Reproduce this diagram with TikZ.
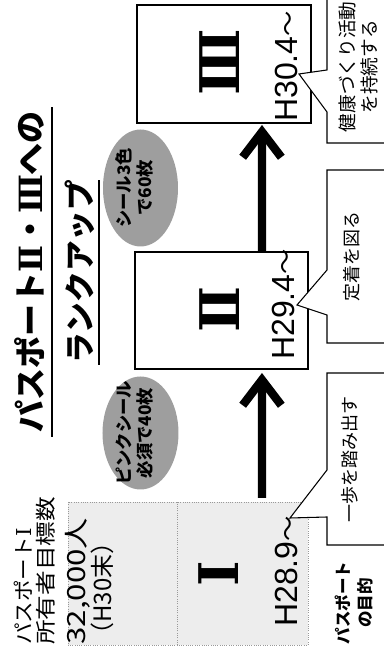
\documentclass[tikz,border=0pt]{standalone}
\usepackage{fontspec}
\setmainfont{Liberation Sans}
\newfontfamily\jp{Noto Sans CJK JP}
\newfontfamily\rom{DejaVu Serif}
\usetikzlibrary{arrows.meta,shapes.geometric,calc}
\begin{document}
\begin{tikzpicture}[x=0.75pt,y=0.75pt,
  box/.style={draw=black, line width=0.8pt, fill=white, inner sep=0pt, outer sep=0pt},
  faintbox/.style={draw=black!40, densely dotted, line width=0.7pt, fill=black!7, inner sep=0pt, outer sep=0pt},
  rankarrow/.style={line width=6.3pt, -{Straight Barb[length=19pt, width=29pt]}},
  seal/.style={ellipse, fill=black!38, inner sep=0pt},
  sealtext/.style={font={\jp\bfseries\fontsize{13pt}{15.75pt}\selectfont}, align=center, inner sep=0pt},
  callout/.style={draw=black, line width=0.8pt, fill=white},
  calltext/.style={font={\jp\fontsize{13.5pt}{16.5pt}\selectfont}, align=center, inner sep=0pt},
  numeral/.style={font={\rom\bfseries\fontsize{41pt}{41pt}\selectfont}, anchor=base, inner sep=0pt},
  datetext/.style={font={\fontsize{24pt}{24pt}\selectfont}, anchor=base west, inner sep=0pt},
  titletext/.style={font={\jp\bfseries\fontsize{24pt}{28pt}\selectfont}, anchor=base, inner sep=0pt},
  lefttext/.style={anchor=base west, inner sep=0pt}
]
\begin{scope}[rotate=90, transform shape]
\useasboundingbox (0,0) rectangle (653,384);
\clip (0,0) rectangle (653,384);

% boxes
\node[faintbox, minimum width=107.25pt, minimum height=180pt] (b1) at (79.5,196) {};
\draw[black!40, densely dotted, line width=0.7pt] ($(b1.south west)!0.542!(b1.north west)$) -- ($(b1.south east)!0.542!(b1.north east)$);
\node[box, minimum width=87.75pt, minimum height=129.75pt] (b2) at (342.5,162.5) {};
\node[box, minimum width=88.5pt, minimum height=130.5pt] (b3) at (589,160) {};

% arrows
\draw[rankarrow, shorten <=3pt, shorten >=3pt] ($(b1.south east)!0.1917!(b1.north east)$) -- ($(b2.south west)!0.266!(b2.north west)$);
\draw[rankarrow, shorten >=1.5pt] ($(b2.south east)!0.266!(b2.north east)$) -- ($(b3.south west)!0.2816!(b3.north west)$);

% seals
\node[seal, minimum width=84.75pt, minimum height=57pt] (e1) at (220,243.5) {};
\node[sealtext] (e1t) at (220,249.5) {ピンクシール\\必須で40枚};
\node[seal, minimum width=87.75pt, minimum height=56.25pt] (e2) at (465,243.5) {};
\node[sealtext] (e2t) at (465,249.5) {シール3色\\で60枚};

% callouts
\filldraw[callout] (660,57) -- (583,57) -- (579,85) -- (541,57) -- (510,57) -- (510,-5) -- (660,-5) -- cycle;
\filldraw[callout] (483,-5) -- (483,57) -- (383,57) -- (348,87) -- (338,57) -- (310,57) -- (310,-5) -- cycle;
\filldraw[callout] (280,-5) -- (280,57) -- (183,57) -- (135,94) -- (136,57) -- (108,57) -- (108,-5) -- cycle;
\node[calltext, font={\jp\fontsize{14pt}{16.5pt}\selectfont}] (ct3) at (586,26) {健康づくり活動\\を持続する};
\node[calltext] (ct2) at (396,32) {定着を図る};
\node[calltext] (ct1) at (193,34) {一歩を踏み出す};
\node[calltext, font={\jp\bfseries\fontsize{12.4pt}{16.5pt}\selectfont}] (lab) at (50,30) {パスポート\\の目的};

% numerals and dates
\node[numeral] (n1) at (79,145) {Ⅰ};
\node[numeral] (n2) at (344,144) {Ⅱ};
\node[numeral] (n3) at (591,144) {Ⅲ};
\node[datetext] (h1) at (26,86) {H28.9{\jp\fontsize{19pt}{19pt}\selectfont 〜}};
\node[datetext] (h2) at (293,89) {H29.4{\jp\fontsize{19pt}{19pt}\selectfont 〜}};
\node[datetext] (h3) at (531,86) {H30.4{\jp\fontsize{19pt}{19pt}\selectfont 〜}};

% title
\node[titletext] (t1) at (381,341) {パスポート{\rom Ⅱ}・{\rom Ⅲ}への};
\draw[line width=1.5pt] (216,332) -- (546,332);
\node[titletext, font={\jp\bfseries\fontsize{23pt}{28pt}\selectfont}] (t2) at (381,292) {ランクアップ};
\draw[line width=1.5pt] (288,285) -- (473,285);

% left text
\node[lefttext, font={\jp\fontsize{15.4pt}{18pt}\selectfont}, xscale=1.05] (l1) at (8,352) {パスポート{\rom Ⅰ}};
\node[lefttext, font={\jp\fontsize{15.4pt}{18pt}\selectfont}, xscale=1.2] (l2) at (8,330) {所有者目標数};
\node[lefttext, font={\jp\fontsize{18.75pt}{22pt}\selectfont}, xscale=1.25] (l3) at (8,298) {32,000人};
\node[lefttext, font={\jp\fontsize{18pt}{22pt}\selectfont}] (l4) at (6,272) {（H30末）};
\end{scope}
\end{tikzpicture}
\end{document}
